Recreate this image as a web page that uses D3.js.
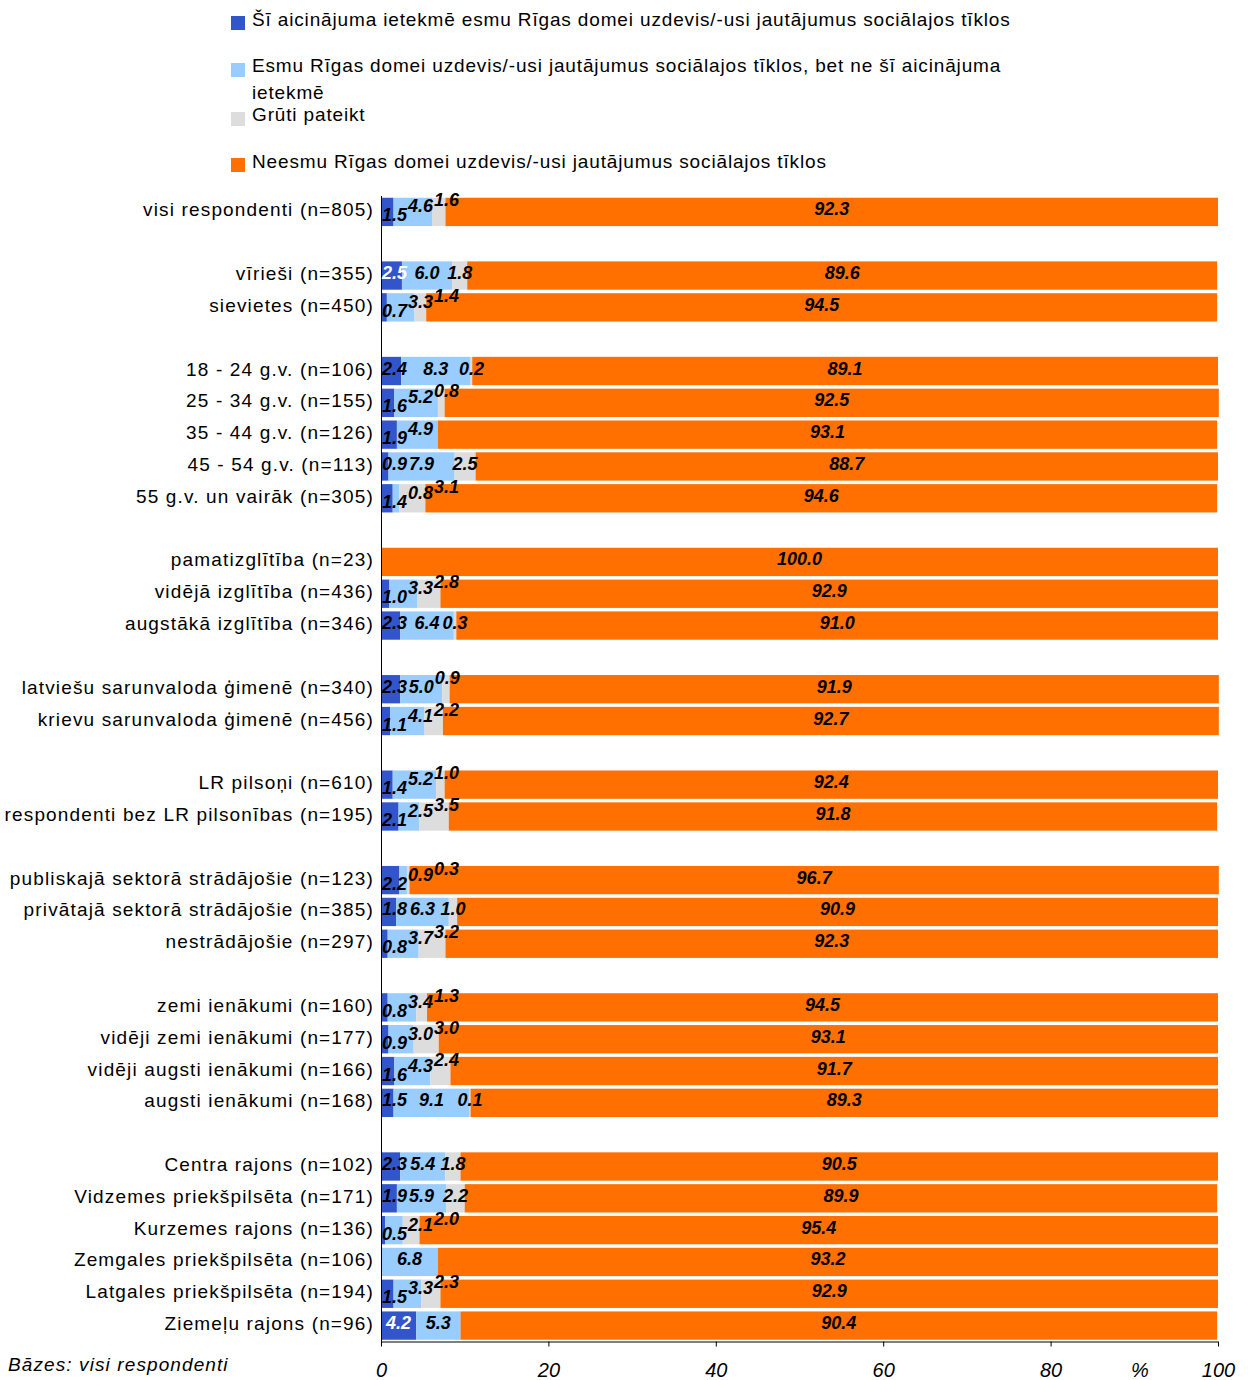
<!DOCTYPE html>
<html><head><meta charset="utf-8">
<script src="https://cdn.jsdelivr.net/npm/d3@7"></script>
<style>
body{margin:0;background:#fff}
svg{display:block}
text{font-family:"Liberation Sans",Arial,Helvetica,sans-serif}
</style>
</head><body>
<svg id="chart" width="1248" height="1380"></svg>
<script>
// ---------- DATA ----------
const categories = [
  "visi respondenti (n=805)", "",
  "vīrieši (n=355)", "sievietes (n=450)", "",
  "18 - 24 g.v. (n=106)", "25 - 34 g.v. (n=155)", "35 - 44 g.v. (n=126)", "45 - 54 g.v. (n=113)", "55 g.v. un vairāk (n=305)", "",
  "pamatizglītība (n=23)", "vidējā izglītība (n=436)", "augstākā izglītība (n=346)", "",
  "latviešu sarunvaloda ģimenē (n=340)", "krievu sarunvaloda ģimenē (n=456)", "",
  "LR pilsoņi (n=610)", "respondenti bez LR pilsonības (n=195)", "",
  "publiskajā sektorā strādājošie (n=123)", "privātajā sektorā strādājošie (n=385)", "nestrādājošie (n=297)", "",
  "zemi ienākumi (n=160)", "vidēji zemi ienākumi (n=177)", "vidēji augsti ienākumi (n=166)", "augsti ienākumi (n=168)", "",
  "Centra rajons (n=102)", "Vidzemes priekšpilsēta (n=171)", "Kurzemes rajons (n=136)", "Zemgales priekšpilsēta (n=106)", "Latgales priekšpilsēta (n=194)", "Ziemeļu rajons (n=96)"
];
const seriesNames = [
  "Šī aicinājuma ietekmē esmu Rīgas domei uzdevis/-usi jautājumus sociālajos tīklos",
  "Esmu Rīgas domei uzdevis/-usi jautājumus sociālajos tīklos, bet ne šī aicinājuma ietekmē",
  "Grūti pateikt",
  "Neesmu Rīgas domei uzdevis/-usi jautājumus sociālajos tīklos"
];
const influenced = [1.5, null, 2.5, 0.7, null, 2.4, 1.6, 1.9, 0.9, 1.4, null, 0, 1.0, 2.3, null, 2.3, 1.1, null, 1.4, 2.1, null, 2.2, 1.8, 0.8, null, 0.8, 0.9, 1.6, 1.5, null, 2.3, 1.9, 0.5, 0, 1.5, 4.2];
const notInfluenced = [4.6, null, 6.0, 3.3, null, 8.3, 5.2, 4.9, 7.9, 0.8, null, 0, 3.3, 6.4, null, 5.0, 4.1, null, 5.2, 2.5, null, 0.9, 6.3, 3.7, null, 3.4, 3.0, 4.3, 9.1, null, 5.4, 5.9, 2.1, 6.8, 3.3, 5.3];
const hardToSay = [1.6, null, 1.8, 1.4, null, 0.2, 0.8, 0, 2.5, 3.1, null, 0, 2.8, 0.3, null, 0.9, 2.2, null, 1.0, 3.5, null, 0.3, 1.0, 3.2, null, 1.3, 3.0, 2.4, 0.1, null, 1.8, 2.2, 2.0, 0, 2.3, 0];
const notAsked = [92.3, null, 89.6, 94.5, null, 89.1, 92.5, 93.1, 88.7, 94.6, null, 100.0, 92.9, 91.0, null, 91.9, 92.7, null, 92.4, 91.8, null, 96.7, 90.9, 92.3, null, 94.5, 93.1, 91.7, 89.3, null, 90.5, 89.9, 95.4, 93.2, 92.9, 90.4];
const xTicks = [0, 20, 40, 60, 80, 100];
const axisUnit = "%";
const baseNote = "Bāzes: visi respondenti";

// ---------- STYLE / LAYOUT ----------
const colors = ["#3355CC", "#99CCFF", "#DDDDDD", "#FF7000"];
const keys = ["s0", "s1", "s2", "s3"];
const svg = d3.select("#chart");
const X0 = 381, X1 = 1218, Y0 = 196, Y1 = 1341.5;

const rows = categories.map((c, i) => ({
  idx: i, cat: c, gap: influenced[i] === null,
  s0: influenced[i] || 0, s1: notInfluenced[i] || 0, s2: hardToSay[i] || 0, s3: notAsked[i] || 0
}));

const x = d3.scaleLinear().domain([0, 100]).range([X0, X1]);
const y = d3.scaleBand().domain(rows.map(r => r.idx)).range([Y0, Y1])
  .paddingInner(0.11).paddingOuter(0.055);

const stacked = d3.stack().keys(keys)(rows.filter(r => !r.gap));

// bars
const gBars = svg.append("g");
stacked.forEach((layer, li) => {
  gBars.append("g").attr("fill", colors[li])
    .selectAll("rect").data(layer).join("rect")
    .attr("x", d => x(d[0]))
    .attr("y", d => y(d.data.idx))
    .attr("width", d => Math.max(0, x(d[1]) - x(d[0])))
    .attr("height", y.bandwidth());
});

// axes
const axisG = svg.append("g").attr("transform", `translate(0,${Y1})`)
  .call(d3.axisBottom(x).tickValues(xTicks).tickSize(5).tickFormat(d3.format("d")));
axisG.select(".domain").attr("stroke", "#000").attr("d", `M${X0},0.5H${X1}`);
axisG.selectAll(".tick line").attr("stroke", "#000");
axisG.selectAll(".tick text")
  .attr("y", 35).attr("dy", 0)
  .style("font-size", "20px").style("font-style", "italic").attr("fill", "#000")
  .style("font-family", '"Liberation Sans",Arial,sans-serif');

svg.append("line").attr("x1", X0 + 0.5).attr("x2", X0 + 0.5).attr("y1", Y0).attr("y2", Y1)
  .attr("stroke", "#000");

svg.append("text").attr("x", 1140).attr("y", Y1 + 35).attr("text-anchor", "middle")
  .style("font-size", "20px").style("font-style", "italic").text(axisUnit);
svg.append("text").attr("x", 8).attr("y", 1371)
  .style("font-size", "19px").style("font-style", "italic").style("letter-spacing", "1.1px").text(baseNote);

// category labels
svg.append("g").selectAll("text").data(rows.filter(r => !r.gap)).join("text")
  .attr("x", 374).attr("y", d => y(d.idx) + y.bandwidth() / 2 + 4.5)
  .attr("text-anchor", "end")
  .style("font-size", "19px").style("letter-spacing", "1.15px")
  .text(d => d.cat);

// value labels
const fmt = d3.format(".1f");
const gLab = svg.append("g").style("font-size", "18px").style("font-weight", "bold").style("font-style", "italic");
const byRow = rows.filter(r => !r.gap).map((r, ri) => ({ r, segs: stacked.map(l => l[ri]) }));
byRow.forEach(({ r, segs }) => {
  const cy = y(r.idx) + y.bandwidth() / 2;
  const labs = [];
  segs.slice(0, 3).forEach((s, si) => {
    const v = s[1] - s[0];
    if (v <= 0.0001) return;
    const t = gLab.append("text").text(fmt(r[keys[si]]));
    const w = t.node().getComputedTextLength();
    const cx = (x(s[0]) + x(s[1])) / 2;
    labs.push({ t, w, left: cx - w / 2, dy: 0, si, v: r[keys[si]] });
  });
  labs.forEach((L, i) => {
    if (i === 0) { L.left = Math.max(L.left, X0 + 1); return; }
    const P = labs[i - 1];
    const pr = P.left + P.w + 1;
    if (L.left < pr) {
      L.left = pr;
      if (i - 1 === 0 && P.dy === 0) { P.dy = 6; L.dy = -3; }
      else if (P.dy !== 0) L.dy = P.dy - 6;
      else L.dy = -9;
    }
  });
  labs.forEach(L => {
    L.t.attr("x", L.left).attr("y", cy + 3.5 + L.dy)
      .attr("fill", (L.si === 0 && L.v >= 2.5 && L.dy === 0) ? "#fff" : "#000");
  });
  // orange label
  const o = segs[3];
  gLab.append("text").attr("x", (x(o[0]) + x(o[1])) / 2).attr("y", cy + 3.5)
    .attr("text-anchor", "middle").text(fmt(r.s3));
});

// legend
const legBase = [26, 72, 121, 168];
const legSq = [16, 63, 112, 158];
const legG = svg.append("g").style("font-size", "19px").style("letter-spacing", "0.85px");
seriesNames.forEach((name, i) => {
  legG.append("rect").attr("x", 231).attr("y", legSq[i]).attr("width", 14).attr("height", 14).attr("fill", colors[i]);
  const t = legG.append("text").attr("x", 252).attr("y", legBase[i]);
  const words = name.split(" ");
  let line = [], ts = t.append("tspan").attr("x", 252);
  words.forEach(w => {
    line.push(w);
    ts.text(line.join(" "));
    if (ts.node().getComputedTextLength() > 800 && line.length > 1) {
      line.pop(); ts.text(line.join(" "));
      line = [w];
      ts = t.append("tspan").attr("x", 252).attr("dy", 27).text(w);
    }
  });
});
</script>
</body></html>
